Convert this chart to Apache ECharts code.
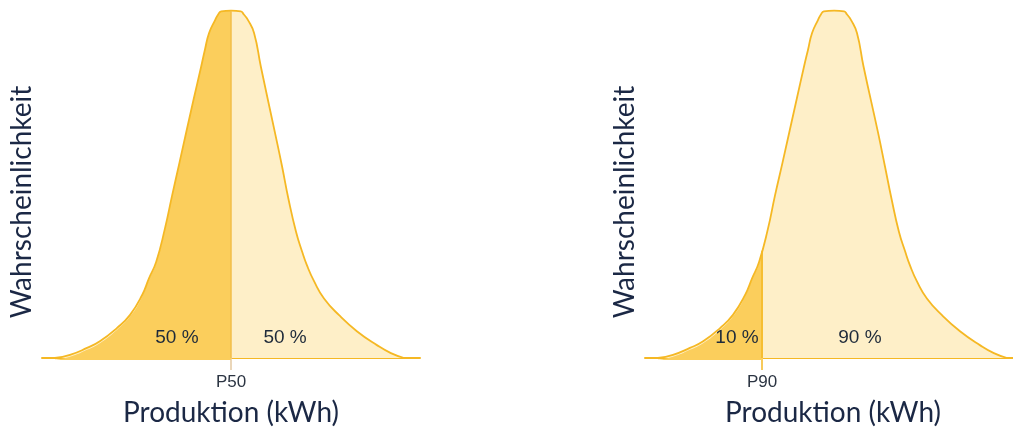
<!DOCTYPE html>
<html>
<head>
<meta charset="utf-8">
<script src="https://cdn.jsdelivr.net/npm/echarts@6/dist/echarts.min.js"></script>
<style>html,body{margin:0;padding:0;background:#fff;}#c{width:1013px;height:432px;}</style>
</head>
<body>
<div id="c"></div>
<script>
// Left chart: P50
const leftX = [3.4, 7.4, 11.9, 15.3, 19.8, 23.3, 26.5, 28.3, 30.2, 32.5, 34.4, 36.4, 40.1, 42.1, 43.1, 44.2, 45.8, 46.6, 47.4, 50.0,
               52.6, 53.4, 54.5, 56.1, 57.9, 61.6, 63.5, 65.2, 67.2, 68.8, 70.1, 72.0, 74.6, 78.6, 83.3, 88.6, 92.3, 95.8];
const leftY = [0, 0.9, 2.9, 4.8, 8.6, 12.4, 18.1, 22.9, 27.6, 37.1, 46.6, 56.3, 74.3, 83.7, 88.6, 93.4, 97.1, 98.7, 99.6, 99.8,
               99.6, 98.7, 97.1, 93.4, 83.7, 64.9, 55.1, 45.7, 36.3, 30.6, 26.6, 22.0, 17.1, 12.3, 7.7, 3.7, 1.4, 0];
const leftP = 50.0, leftPHeight = 99.8, leftPLabel = 'P50';
const leftPctText = ['50 %', '50 %'];
const leftPctX = [35.7, 64.3];

// Right chart: P90
const rightX = [3.5, 7.6, 12.2, 15.8, 20.4, 23.9, 27.2, 29.1, 31.0, 33.4, 35.3, 37.4, 41.2, 43.2, 44.3, 45.4, 47.0, 47.8, 48.6, 51.4,
                54.1, 54.9, 56.0, 57.6, 59.4, 63.3, 65.2, 67.0, 69.0, 70.7, 72.0, 73.9, 76.6, 80.7, 85.6, 91.0, 94.8, 98.4];
const rightY = [0, 0.9, 2.9, 4.8, 8.6, 12.4, 18.1, 22.9, 27.6, 37.1, 46.6, 56.3, 74.3, 83.7, 88.6, 93.4, 97.1, 98.7, 99.6, 99.8,
                99.6, 98.7, 97.1, 93.4, 83.7, 64.9, 55.1, 45.7, 36.3, 30.6, 26.6, 22.0, 17.1, 12.3, 7.7, 3.7, 1.4, 0];
const rightP = 31.8, rightPHeight = 30.8, rightPLabel = 'P90';
const rightPctText = ['10 %', '90 %'];
const rightPctX = [25.0, 58.4];

const pctY = 5.7;
const xMin = 0, xMax = 100, yMin = 0, yMax = 100;
const xName = 'Produktion (kWh)';
const yName = 'Wahrscheinlichkeit';

const LINE = '#F5B824', DARK = '#FBCE5C', LIGHT = '#FEEFC8';
const NAVY = '#1B2845';

const G = [
  {left: 42, top: 10, width: 378, height: 350},
  {left: 645, top: 10, width: 368, height: 350}
];
function zip(xs, ys){ return xs.map((x,i)=>[x, ys[i]]); }

const charts = [
  {x: leftX, y: leftY, p: leftP, ph: leftPHeight, pl: leftPLabel, pt: leftPctText, px: leftPctX, tickColor: '#E3C9A2', vColor: '#F2BE4A', namePad: [0,0,0,0]},
  {x: rightX, y: rightY, p: rightP, ph: rightPHeight, pl: rightPLabel, pt: rightPctText, px: rightPctX, tickColor: LINE, vColor: LINE, namePad: [0,0,0,8]}
];

const SMOOTH = 0.5;
const grid = [], xAxis = [], yAxis = [], series = [];
charts.forEach((c, i) => {
  const g = G[i];
  grid.push({left: g.left, top: g.top, width: g.width, height: g.height});
  // clip grid for darker part (same pixel scale, ends at P)
  grid.push({left: g.left, top: g.top, width: (c.p - xMin) / (xMax - xMin) * g.width, height: g.height});
  const gi = i * 2;
  xAxis.push({
    gridIndex: gi, type: 'value', min: xMin, max: xMax,
    splitLine: {show: false},
    axisLine: {show: true, lineStyle: {color: LINE, width: 2}},
    axisTick: {show: true, customValues: [c.p], length: 12, lineStyle: {color: c.tickColor, width: 1.5}},
    axisLabel: {show: true, customValues: [c.p], formatter: () => c.pl, margin: 16,
      fontFamily: 'Liberation Sans', fontSize: 17, color: '#2B3442'},
    name: xName, nameLocation: 'middle', nameGap: 41,
    nameTextStyle: {fontFamily: 'Lato', fontSize: 28, color: NAVY, padding: c.namePad}
  });
  xAxis.push({gridIndex: gi + 1, type: 'value', min: xMin, max: c.p, show: false});
  yAxis.push({
    gridIndex: gi, type: 'value', min: yMin, max: yMax,
    axisLine: {show: false}, axisTick: {show: false}, axisLabel: {show: false}, splitLine: {show: false},
    name: yName, nameLocation: 'middle', nameGap: 6,
    nameTextStyle: {fontFamily: 'Lato', fontSize: 28, color: NAVY, padding: [0, 36, 0, 0]}
  });
  yAxis.push({gridIndex: gi + 1, type: 'value', min: yMin, max: yMax, show: false});
  const data = zip(c.x, c.y);
  series.push({
    type: 'line', xAxisIndex: gi, yAxisIndex: gi, data, smooth: SMOOTH, symbol: 'none',
    lineStyle: {width: 0}, areaStyle: {color: LIGHT, opacity: 1}, z: 1, silent: true
  });
  series.push({
    type: 'line', xAxisIndex: gi + 1, yAxisIndex: gi + 1, data, smooth: SMOOTH, symbol: 'none', clip: true,
    lineStyle: {width: 0}, areaStyle: {color: DARK, opacity: 1}, z: 2, silent: true
  });
  series.push({
    type: 'line', xAxisIndex: gi, yAxisIndex: gi, data, smooth: SMOOTH, symbol: 'none',
    lineStyle: {width: 1.8, color: LINE}, z: 4, silent: true,
    markLine: {silent: true, symbol: ['none', 'none'], animation: false,
      lineStyle: {color: c.vColor, width: 1.5, type: 'solid'}, label: {show: false},
      data: [[{coord: [c.p, 0]}, {coord: [c.p, c.ph]}]]},
    markPoint: {silent: true, symbol: 'circle', symbolSize: 0, animation: false,
      label: {show: true, position: 'inside', fontFamily: 'Liberation Sans', fontSize: 19, color: '#1E2A3A',
        formatter: p => p.name},
      data: c.pt.map((t, k) => ({name: t, coord: [c.px[k], pctY]}))}
  });
});

const chart = echarts.init(document.getElementById('c'), null, {renderer: 'canvas'});
chart.setOption({animation: false, grid, xAxis, yAxis, series});
</script>
</body>
</html>
